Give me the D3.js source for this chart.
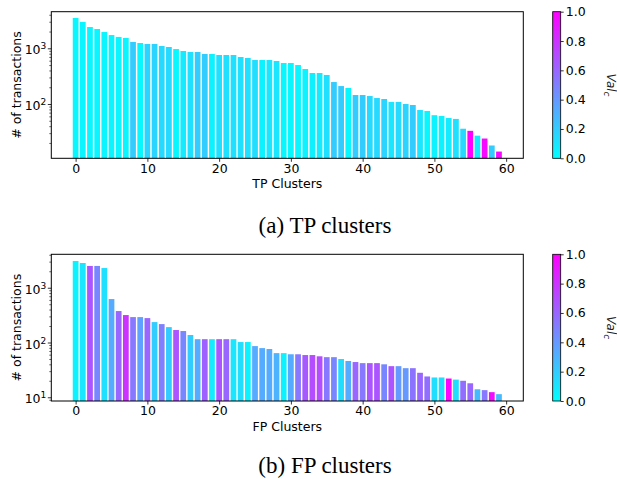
<!DOCTYPE html>
<html>
<head>
<meta charset="utf-8">
<script src="https://cdn.jsdelivr.net/npm/d3@7"></script>
<style>
  body { margin: 0; background: #fff; }
  text { font-family: "DejaVu Sans", sans-serif; }
</style>
</head>
<body>
<div id="canvas"></div>
<script>
"use strict"

/* Data */
let clusterIds = d3.range(0, 60);
let tpCounts = [3500, 2970, 2410, 2220, 1960, 1730, 1600, 1530, 1300, 1245,
    1195, 1195, 1100, 1055, 970, 895, 858, 858, 790, 790,
    758, 758, 758, 698, 670, 617, 617, 617, 592, 545,
    545, 501, 425, 360, 360, 332, 248, 210, 194, 145,
    145, 139, 128, 123, 109, 109, 100, 96, 78, 75,
    63, 61, 56, 54, 36, 33, 27, 24, 18, 14];
let tpVal = [0.03, 0.04, 0.04, 0.04, 0.04, 0.04, 0.04, 0.04, 0.2, 0.03,
    0.17, 0.17, 0.15, 0.15, 0.03, 0.08, 0.12, 0.2, 0.2, 0.05,
    0.12, 0.12, 0.12, 0.12, 0.12, 0.13, 0.05, 0.1, 0.1, 0.03,
    0.03, 0.04, 0.05, 0.06, 0.08, 0.12, 0.2, 0.2, 0.03, 0.2,
    0.2, 0.15, 0.15, 0.17, 0.1, 0.15, 0.17, 0.2, 0.1, 0.03,
    0.05, 0.05, 0.08, 0.12, 0.15, 1.0, 0.08, 0.97, 0.2, 0.97];
let fpCounts = [3080, 2830, 2500, 2500, 2290, 621, 375, 317, 291, 291,
    279, 236, 217, 191, 169, 162, 137, 115, 115, 115,
    115, 115, 115, 102, 102, 86, 79, 76, 64, 64,
    61, 61, 59, 59, 56, 54, 54, 50, 46, 44,
    42, 42, 42, 40, 37, 37, 34, 34, 28, 24,
    23, 23, 22, 21, 20, 18, 14, 13.5, 12.4, 11.4];
let fpVal = [0.05, 0.1, 0.67, 0.47, 0.12, 0.33, 0.6, 0.8, 0.53, 0.37,
    0.6, 0.2, 0.5, 0.2, 0.67, 0.47, 0.2, 0.33, 0.62, 0.08,
    0.67, 0.6, 0.1, 0.13, 0.05, 0.33, 0.33, 0.33, 0.3, 0.05,
    0.33, 0.53, 0.65, 0.7, 0.7, 0.53, 0.47, 0.13, 0.33, 0.6,
    0.53, 0.67, 0.67, 0.47, 0.67, 0.4, 0.4, 0.55, 0.6, 0.57,
    0.13, 0.13, 1.0, 0.13, 0.57, 0.6, 0.27, 0.53, 0.95, 0.27];
let xTickValues = [0, 10, 20, 30, 40, 50, 60];
let cbTickValues = [0, 0.2, 0.4, 0.6, 0.8, 1.0];

/* Configuration variables: drawing */
let svgWidth = 617;
let svgHeight = 479;
let plotLeft = 51.3;
let plotRight = 523.3;
let cbLeft = 552.7;
let cbWidth = 8;

let svg = d3.select("#canvas")
    .append("svg")
    .attr("width", svgWidth)
    .attr("height", svgHeight);

/* matplotlib "cool" colormap */
let colorScale = d3.scaleLinear()
    .domain([0, 1])
    .range(["#00ffff", "#ff00ff"])
    .interpolate(d3.interpolateRgb);

let grad = svg.append("defs")
    .append("linearGradient")
    .attr("id", "coolGrad")
    .attr("x1", 0).attr("y1", 1)
    .attr("x2", 0).attr("y2", 0);
grad.append("stop").attr("offset", "0%").attr("stop-color", colorScale(0));
grad.append("stop").attr("offset", "100%").attr("stop-color", colorScale(1));

let xScale = d3.scaleLinear()
    .domain([-3.39, 62.39])
    .range([plotLeft, plotRight]);

function drawPanel(counts, vals, top, bottom, yDomain, majors, xLabel, caption, captionY) {
    let yScale = d3.scaleLog()
        .domain(yDomain)
        .range([bottom, top]);

    let g = svg.append("g");

    /* bars, clipped to the plot box */
    let clipId = "clip" + Math.round(top);
    g.append("clipPath")
        .attr("id", clipId)
        .append("rect")
        .attr("x", plotLeft)
        .attr("y", top)
        .attr("width", plotRight - plotLeft)
        .attr("height", bottom - top);

    g.append("g")
        .attr("clip-path", "url(#" + clipId + ")")
        .selectAll("rect")
        .data(clusterIds)
        .join("rect")
        .attr("x", d => xScale(d - 0.4))
        .attr("width", d => xScale(d + 0.4) - xScale(d - 0.4))
        .attr("y", d => yScale(counts[d]))
        .attr("height", d => bottom + 2 - yScale(counts[d]))
        .attr("fill", d => colorScale(vals[d]));

    /* minor y ticks */
    let minors = [];
    for (let e = 0; e < 4; e++) {
        for (let m = 2; m < 10; m++) {
            let v = m * Math.pow(10, e);
            if (v >= yDomain[0] && v <= yDomain[1]) minors.push(v);
        }
    }
    let minorAxis = g.append("g")
        .attr("transform", "translate(" + plotLeft + ",0)")
        .call(d3.axisLeft(yScale).tickValues(minors).tickSize(2).tickFormat(""));
    minorAxis.select(".domain").remove();
    minorAxis.selectAll("line").attr("stroke-width", 0.6);

    /* major y ticks with 10^n labels */
    let majorAxis = g.append("g")
        .attr("transform", "translate(" + plotLeft + ",0)")
        .call(d3.axisLeft(yScale).tickValues(majors).tickSize(3.5).tickPadding(3).tickFormat(""));
    majorAxis.select(".domain").remove();
    majorAxis.selectAll("line").attr("stroke-width", 0.8);
    majorAxis.selectAll(".tick").each(function (d) {
        let t = d3.select(this).append("text")
            .attr("x", -5)
            .attr("dy", "0.45em")
            .attr("fill", "#000")
            .attr("text-anchor", "end")
            .style("font-size", "12.5px");
        t.append("tspan").text("10");
        t.append("tspan")
            .attr("dy", "-0.55em")
            .style("font-size", "9px")
            .text(String(Math.round(Math.log10(d))));
    });

    /* x axis */
    let xAxis = g.append("g")
        .attr("transform", "translate(0," + bottom + ")")
        .call(d3.axisBottom(xScale).tickValues(xTickValues).tickSize(3.5).tickPadding(2));
    xAxis.select(".domain").remove();
    xAxis.selectAll("line").attr("stroke-width", 0.8);
    xAxis.selectAll("text")
        .attr("fill", "#000")
        .style("font-size", "12.5px")
        .style("font-family", "DejaVu Sans");

    /* frame */
    g.append("rect")
        .attr("x", plotLeft)
        .attr("y", top)
        .attr("width", plotRight - plotLeft)
        .attr("height", bottom - top)
        .attr("fill", "none")
        .attr("stroke", "#000")
        .attr("stroke-width", 1);

    /* axis labels */
    g.append("text")
        .attr("x", (plotLeft + plotRight) / 2)
        .attr("y", bottom + 30)
        .attr("text-anchor", "middle")
        .style("font-size", "12.5px")
        .text(xLabel);

    g.append("text")
        .attr("transform", "translate(21," + (top + bottom) / 2 + ") rotate(-90)")
        .attr("text-anchor", "middle")
        .style("font-size", "12.5px")
        .text("# of transactions");

    /* colorbar */
    let cbScale = d3.scaleLinear()
        .domain([0, 1])
        .range([bottom, top]);
    g.append("rect")
        .attr("x", cbLeft)
        .attr("y", top)
        .attr("width", cbWidth)
        .attr("height", bottom - top)
        .attr("fill", "url(#coolGrad)")
        .attr("stroke", "#000")
        .attr("stroke-width", 0.8);
    let cbAxis = g.append("g")
        .attr("transform", "translate(" + (cbLeft + cbWidth) + ",0)")
        .call(d3.axisRight(cbScale).tickValues(cbTickValues).tickSize(3).tickPadding(2)
            .tickFormat(d3.format(".1f")));
    cbAxis.select(".domain").remove();
    cbAxis.selectAll("line").attr("stroke-width", 0.8);
    cbAxis.selectAll("text")
        .attr("fill", "#000")
        .style("font-size", "12.5px")
        .style("font-family", "DejaVu Sans");

    let valLabel = g.append("text")
        .attr("transform", "translate(607," + (top + bottom) / 2 + ") rotate(90)")
        .attr("text-anchor", "middle")
        .attr("fill", "#222")
        .style("font-size", "12px")
        .style("font-style", "italic");
    valLabel.append("tspan").text("Val");
    valLabel.append("tspan")
        .attr("dy", "0.3em")
        .style("font-size", "9px")
        .text("c");

    /* caption */
    svg.append("text")
        .attr("x", 325)
        .attr("y", captionY)
        .attr("text-anchor", "middle")
        .style("font-family", "'Liberation Serif', 'Times New Roman', serif")
        .style("font-size", "23px")
        .text(caption);
}

drawPanel(tpCounts, tpVal, 11.7, 158.3, [10.6, 4540], [100, 1000], "TP Clusters", "(a) TP clusters", 233);
drawPanel(fpCounts, fpVal, 254.3, 401, [8.55, 4080], [10, 100, 1000], "FP Clusters", "(b) FP clusters", 473);
</script>
</body>
</html>
